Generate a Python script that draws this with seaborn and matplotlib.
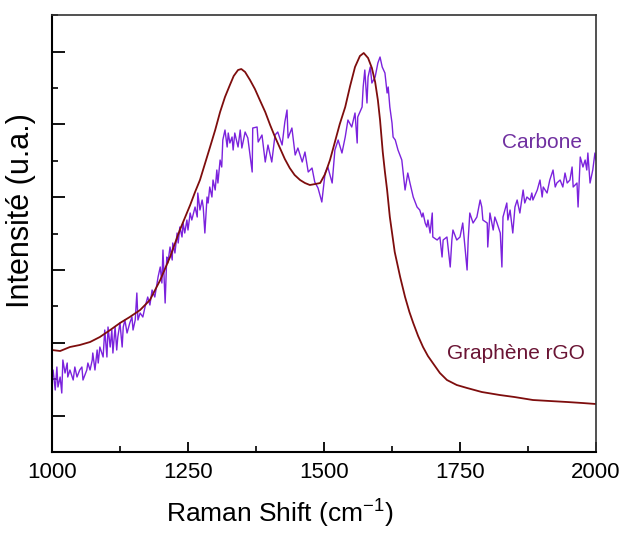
import numpy as np
import pandas as pd
import seaborn as sns
from matplotlib import pyplot as plt

# Graphène rGO (smooth spectrum), x in cm-1, intensity in a.u.
shift_rgo = [1000, 1015, 1033, 1051, 1070, 1088, 1107, 1125, 1143, 1162, 1180, 1199,
             1217, 1235, 1254, 1263, 1272, 1281, 1290, 1300, 1309, 1318, 1327, 1334,
             1342, 1348, 1355, 1364, 1373, 1382, 1392, 1401, 1410, 1419, 1428, 1437,
             1446, 1456, 1465, 1474, 1484, 1493, 1502, 1511, 1520, 1529, 1539, 1548,
             1557, 1566, 1573, 1581, 1588, 1594, 1599, 1603, 1608, 1612, 1616, 1621,
             1630, 1640, 1649, 1657, 1664, 1673, 1682, 1691, 1700, 1713, 1726, 1744,
             1763, 1790, 1823, 1850, 1884, 1915, 1947, 1975, 2000]
int_rgo = [102, 101, 105, 107, 110, 115, 122, 129, 135, 142, 152, 172,
           195, 222, 247, 260, 272, 288, 304, 322, 340, 355, 367, 376,
           382, 383, 380, 372, 363, 352, 340, 327, 315, 304, 293, 284,
           277, 272, 269, 267, 268, 269, 278, 292, 310, 328, 345, 366,
           385, 396, 399, 394, 384, 370, 352, 332, 300, 280, 262, 235,
           200, 175, 155, 140, 129, 116, 105, 96, 89, 79, 72, 67,
           64, 60, 57, 55, 52, 51, 50, 49, 48]

# Carbone (noisy spectrum)
shift_carbone = [
    1000, 1002, 1006, 1009, 1011, 1015, 1018, 1020, 1024, 1028, 1029, 1033, 1039, 1042,
    1046, 1051, 1055, 1057, 1064, 1066, 1070, 1074, 1075, 1079, 1083, 1085, 1088, 1094,
    1097, 1101, 1103, 1107, 1110, 1112, 1116, 1119, 1121, 1125, 1129, 1131, 1134, 1138,
    1143, 1147, 1149, 1153, 1156, 1158, 1162, 1167,
    1171, 1176, 1180, 1184, 1189, 1195, 1199, 1202, 1204, 1208, 1211, 1213, 1217, 1221,
    1222, 1226, 1230, 1232, 1235, 1239, 1241, 1244, 1248, 1250, 1254, 1257, 1263, 1267,
    1268, 1272, 1276, 1278, 1281, 1285, 1287, 1290, 1294, 1296, 1300, 1303, 1305, 1309,
    1312, 1314, 1318, 1322, 1324, 1327, 1331, 1333, 1336, 1342, 1346,
    1349, 1355, 1360, 1368, 1369, 1377, 1379, 1386, 1392, 1397, 1404, 1410, 1415, 1423,
    1428, 1432, 1434, 1441, 1447, 1452, 1460, 1465, 1471, 1478, 1483, 1489, 1496,
    1502, 1507, 1515, 1520, 1526, 1533, 1539, 1544, 1551, 1557, 1561, 1562, 1570, 1572,
    1575, 1579, 1581, 1585, 1588, 1594, 1599, 1603, 1607, 1612, 1616, 1618, 1621, 1625,
    1627, 1631, 1636, 1643, 1649, 1654,
    1658, 1664, 1671, 1676, 1680, 1682, 1686, 1689, 1691, 1695, 1699, 1700, 1708, 1713,
    1717, 1719, 1726, 1728, 1732, 1735, 1737, 1744, 1750, 1755, 1763, 1765, 1768, 1774,
    1781, 1787, 1790, 1792, 1800, 1801, 1805, 1811, 1814, 1818, 1824, 1827,
    1829, 1836, 1838, 1842, 1847, 1851, 1855, 1860, 1866, 1869, 1873, 1879, 1882, 1884,
    1892, 1897, 1901, 1903, 1910, 1915, 1921, 1925, 1928, 1934, 1939, 1943, 1947, 1952,
    1956, 1958, 1965, 1967, 1971, 1976, 1980, 1983, 1985, 1989, 1994, 1998, 2000]
int_carbone = [
    72, 82, 62, 85, 65, 75, 59, 92, 79, 89, 75, 82, 72, 85,
    75, 82, 85, 72, 82, 89, 82, 92, 99, 82, 102, 89, 105, 95,
    122, 95, 125, 105, 122, 99, 125, 102, 115, 129, 105, 125, 132, 119,
    129, 135, 122, 132, 159, 132, 139, 135,
    145, 155, 147, 162, 155, 175, 185, 169, 202, 149, 195, 189, 205, 192,
    209, 199, 219, 209, 225, 215, 229, 219, 232, 222, 239, 232, 245, 235,
    259, 242, 252, 245, 219, 255, 249, 265, 255, 272, 262, 282, 269, 292,
    285, 312, 322, 305, 319, 309, 315, 302, 319, 305, 322,
    304, 320, 314, 280, 324, 325, 310, 317, 290, 307, 290, 317, 320, 307,
    330, 342, 314, 324, 297, 304, 290, 300, 280, 284, 270, 264, 250,
    279, 285, 269, 302, 312, 299, 315, 332, 325, 339, 309, 335, 345, 365,
    382, 349, 375, 385, 369, 375, 389, 395, 385, 379, 359, 365, 345, 329,
    315, 312, 302, 292, 262, 279,
    269, 255, 245, 242, 235, 239, 229, 225, 232, 219, 239, 215, 212, 215,
    195, 212, 215, 205, 185, 212, 222, 212, 215, 229, 182, 212, 239, 229,
    235, 252, 245, 232, 229, 205, 239, 222, 235, 229, 219, 185,
    235, 249, 232, 242, 219, 245, 252, 239, 262, 249, 255, 252, 259, 252,
    262, 272, 255, 265, 259, 272, 282, 265, 269, 272, 265, 279, 269, 272,
    285, 265, 269, 245, 295, 285, 292, 282, 299, 269, 282, 299, 292]

x_ticks = [1000, 1250, 1500, 1750, 2000]
x_minor = [1125, 1375, 1625, 1875]

rgo = pd.DataFrame({'shift': shift_rgo, 'intensity': int_rgo})
carbone = pd.DataFrame({'shift': shift_carbone, 'intensity': int_carbone})

sns.set_theme(style='ticks')
plt.rcParams['font.family'] = ['Liberation Sans', 'DejaVu Sans']
plt.rcParams['mathtext.default'] = 'regular'

fig = plt.figure(figsize=(6.27, 5.36), dpi=100)
ax = fig.add_axes([0.0829, 0.1567, 0.8677, 0.8153])

sns.lineplot(data=carbone, x='shift', y='intensity', ax=ax, color='#7b22dd',
             linewidth=1.0, estimator=None, sort=False, legend=False)
sns.lineplot(data=rgo, x='shift', y='intensity', ax=ax, color='#7e0d0d',
             linewidth=1.3, estimator=None, sort=False, legend=False)

ax.set_xlim(1000, 2000)
ax.set_ylim(0, 437)
ax.set_xticks(x_ticks)
ax.set_xticks(x_minor, minor=True)
ax.set_xticklabels([str(t) for t in x_ticks])
step = 36.4
ax.set_yticks(np.arange(step, 437, 2 * step))
ax.set_yticks(np.arange(2 * step, 437, 2 * step), minor=True)
ax.set_yticklabels([])

ax.tick_params(axis='both', which='both', direction='in', color='black',
               labelcolor='black', top=False, right=False)
ax.tick_params(axis='x', which='major', length=7, width=1.3, labelsize=16, pad=7)
ax.tick_params(axis='y', which='major', length=9, width=1.3)
ax.tick_params(axis='both', which='minor', length=4.5, width=1.2)

for side in ['left', 'bottom']:
    ax.spines[side].set_linewidth(1.5)
    ax.spines[side].set_color('black')
for side in ['top', 'right']:
    ax.spines[side].set_visible(True)
    ax.spines[side].set_linewidth(1.2)
    ax.spines[side].set_color('#333333')

ax.set_xlabel(r'Raman Shift (cm$^{-1}$)', fontsize=19, color='black')
ax.xaxis.set_label_coords(0.419, -0.105)
ax.set_ylabel('Intensité (u.a.)', fontsize=22, color='black')
ax.yaxis.set_label_coords(-0.03, 0.552)

ax.text(1900, 310, 'Carbone', color='#7030a0', fontsize=15,
        ha='center', va='center')
ax.text(1853, 99, 'Graphène rGO', color='#6a1434', fontsize=15,
        ha='center', va='center')

fig.savefig('out.png', dpi=100)
